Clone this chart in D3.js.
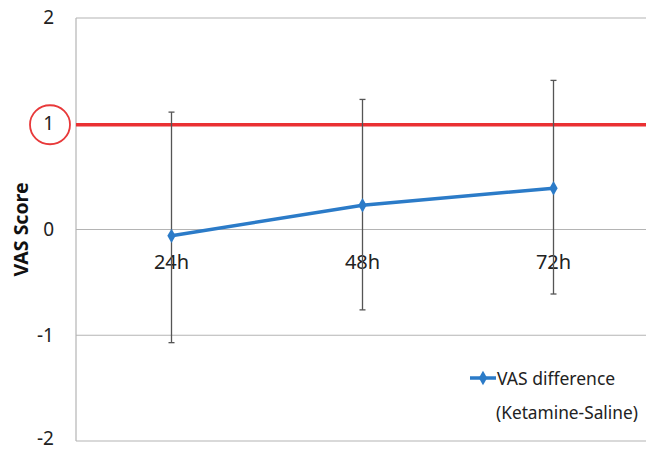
<!DOCTYPE html>
<html>
<head>
<meta charset="utf-8">
<script src="https://cdn.jsdelivr.net/npm/d3@7"></script>
<style>
  body { margin: 0; background: #fff; }
  text { font-family: "Noto Sans", "Open Sans", sans-serif; }
</style>
</head>
<body>
<div id="chart"></div>
<script>
// data
var categories = ["24h", "48h", "72h"];
var vasDiff = [-0.06, 0.23, 0.39];
var errUpper = [1.11, 1.23, 1.41];
var errLower = [-1.07, -0.76, -0.61];
var yTicks = [-2, -1, 0, 1, 2];
var refLine = 1;

var margin = {top: 18, right: 0, bottom: 10, left: 76},
    width = 573,
    height = 423;

var svg = d3.select("#chart")
  .append("svg")
    .attr("width", 646)
    .attr("height", 451)
  .append("g")
    .attr("transform", "translate(" + margin.left + "," + margin.top + ")");

// x as bands, points sit in the middle
var x = d3.scaleBand()
    .domain(categories)
    .range([0, width]);

var y = d3.scaleLinear()
    .domain([-2, 2])
    .range([height, 0]);

// gridlines
svg.selectAll(".grid")
    .data(yTicks)
  .enter().append("line")
    .attr("x1", 0)
    .attr("x2", width)
    .attr("y1", function(d) { return y(d); })
    .attr("y2", function(d) { return y(d); })
    .attr("stroke", "#b4b4b4")
    .attr("stroke-width", 1.2);

// left axis line
svg.append("line")
    .attr("x1", 0).attr("x2", 0)
    .attr("y1", 0).attr("y2", height)
    .attr("stroke", "#b4b4b4")
    .attr("stroke-width", 1.2);

// y tick labels (bottom one nudged up so it stays inside the frame)
svg.selectAll(".ylab")
    .data(yTicks)
  .enter().append("text")
    .attr("x", -22)
    .attr("y", function(d) { return y(d); })
    .attr("dy", function(d, i) { return i === 0 ? "0.2em" : "0.33em"; })
    .attr("text-anchor", "end")
    .attr("font-size", 19)
    .attr("fill", "#222")
    .text(function(d) { return d; });

// circle round the "1"
svg.append("ellipse")
    .attr("cx", 50 - margin.left)
    .attr("cy", y(refLine) + 1)
    .attr("rx", 20)
    .attr("ry", 19.5)
    .attr("fill", "none")
    .attr("stroke", "#e8393a")
    .attr("stroke-width", 1.8);

// axis title
svg.append("text")
    .attr("transform", "translate(" + (28 - margin.left) + "," + y(0) + ") rotate(-90)")
    .attr("text-anchor", "middle")
    .attr("font-size", 19.5)
    .attr("font-weight", "bold")
    .attr("fill", "#111")
    .text("VAS Score");

// red reference line
svg.append("line")
    .attr("x1", 0)
    .attr("x2", width)
    .attr("y1", y(refLine) + 1)
    .attr("y2", y(refLine) + 1)
    .attr("stroke", "#ea3033")
    .attr("stroke-width", 3.5);

// x category labels, sitting under the zero line
svg.selectAll(".xlab")
    .data(categories)
  .enter().append("text")
    .attr("x", function(d) { return x(d) + x.bandwidth() / 2; })
    .attr("y", y(0) + 39)
    .attr("text-anchor", "middle")
    .attr("font-size", 20)
    .attr("fill", "#222")
    .text(function(d) { return d; });

// error bars
var cx = function(i) { return x(categories[i]) + x.bandwidth() / 2; };
var err = svg.selectAll(".err")
    .data(categories)
  .enter().append("g");

err.append("line")
    .attr("x1", function(d, i) { return cx(i); })
    .attr("x2", function(d, i) { return cx(i); })
    .attr("y1", function(d, i) { return y(errUpper[i]); })
    .attr("y2", function(d, i) { return y(errLower[i]); })
    .attr("stroke", "#555")
    .attr("stroke-width", 1.3);

err.append("line")
    .attr("x1", function(d, i) { return cx(i) - 3; })
    .attr("x2", function(d, i) { return cx(i) + 3; })
    .attr("y1", function(d, i) { return y(errUpper[i]); })
    .attr("y2", function(d, i) { return y(errUpper[i]); })
    .attr("stroke", "#555")
    .attr("stroke-width", 1.3);

err.append("line")
    .attr("x1", function(d, i) { return cx(i) - 3; })
    .attr("x2", function(d, i) { return cx(i) + 3; })
    .attr("y1", function(d, i) { return y(errLower[i]); })
    .attr("y2", function(d, i) { return y(errLower[i]); })
    .attr("stroke", "#555")
    .attr("stroke-width", 1.3);

// the series line
var line = d3.line()
    .x(function(d, i) { return cx(i); })
    .y(function(d) { return y(d); });

svg.append("path")
    .datum(vasDiff)
    .attr("d", line)
    .attr("fill", "none")
    .attr("stroke", "#2b7bc8")
    .attr("stroke-width", 3.5);

var diamond = d3.symbol().type(d3.symbolDiamond).size(60);

svg.selectAll(".pt")
    .data(vasDiff)
  .enter().append("path")
    .attr("d", diamond)
    .attr("transform", function(d, i) { return "translate(" + cx(i) + "," + y(d) + ")"; })
    .attr("fill", "#2b7bc8");

// legend
var legend = svg.append("g")
    .attr("transform", "translate(" + (470 - margin.left) + "," + (378 - margin.top) + ")");

legend.append("line")
    .attr("x1", 0).attr("x2", 26)
    .attr("y1", 0).attr("y2", 0)
    .attr("stroke", "#2b7bc8")
    .attr("stroke-width", 3.5);

legend.append("path")
    .attr("d", diamond)
    .attr("transform", "translate(13,0)")
    .attr("fill", "#2b7bc8");

legend.append("text")
    .attr("x", 27)
    .attr("y", 1)
    .attr("dy", "0.35em")
    .attr("font-size", 17.5)
    .attr("fill", "#222")
    .text("VAS difference");

legend.append("text")
    .attr("x", 26)
    .attr("y", 35)
    .attr("dy", "0.35em")
    .attr("font-size", 17.3)
    .attr("fill", "#222")
    .text("(Ketamine-Saline)");
</script>
</body>
</html>
